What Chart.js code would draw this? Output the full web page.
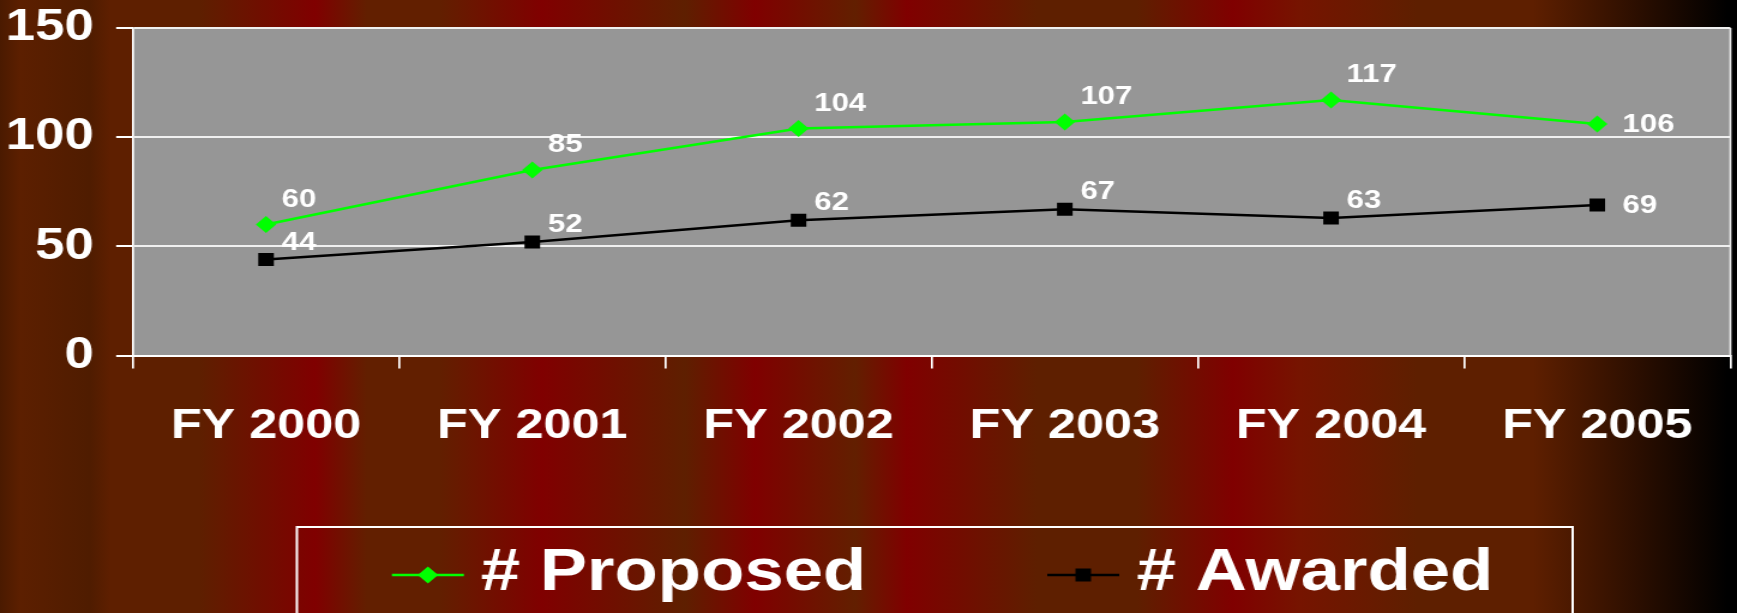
<!DOCTYPE html>
<html>
<head>
<meta charset="utf-8">
<script src="https://cdn.jsdelivr.net/npm/chart.js@4.4.0/dist/chart.umd.min.js"></script>
<style>
  html, body { margin: 0; padding: 0; overflow: hidden; }
  body {
    width: 1737px;
    height: 613px;
    background: linear-gradient(to right,
      #4a1a00 0px, #5c1f00 20px, #4f1c00 90px, #5e1f00 110px, #5e1f00 200px,
      #800000 315px, #621f00 367px, #621f00 440px, #800000 542px, #5e1f00 685px,
      #800000 755px, #621f00 855px, #800000 907px, #5e1f00 1037px, #5e1f00 1137px,
      #800000 1233px, #761400 1300px, #5e1f00 1417px, #5e1f00 1533px, #000000 1727px);
  }
</style>
</head>
<body>
<!-- drawn narrower and stretched, the original picture is widened -->
<canvas id="lineChart" width="1448" height="613" style="width:1737px;height:613px;display:block"></canvas>
<script>
const categories = ['FY 2000', 'FY 2001', 'FY 2002', 'FY 2003', 'FY 2004', 'FY 2005'];
const proposed = [60, 85, 104, 107, 117, 106];
const awarded = [44, 52, 62, 67, 63, 69];
const yTicks = [0, 50, 100, 150];

const FONT = "'Liberation Sans', Arial, sans-serif";

function drawMarker(ctx, style, x, y, r, color) {
    ctx.fillStyle = color;
    ctx.beginPath();
    if (style === 'rectRot') {
        ctx.moveTo(x, y - r);
        ctx.lineTo(x + r, y);
        ctx.lineTo(x, y + r);
        ctx.lineTo(x - r, y);
        ctx.closePath();
    } else {
        const s = r * Math.SQRT1_2;
        ctx.rect(x - s, y - s, 2 * s, 2 * s);
    }
    ctx.fill();
}

// gray plot area + right edge
const plotArea = {
    id: 'plotArea',
    beforeDraw(chart) {
        const { ctx, chartArea: a } = chart;
        ctx.save();
        ctx.fillStyle = '#969696';
        ctx.fillRect(a.left, a.top, a.right - a.left, a.bottom - a.top);
        ctx.restore();
    },
    beforeDatasetsDraw(chart) {
        const { ctx, chartArea: a } = chart;
        ctx.save();
        ctx.strokeStyle = '#f0f0f0';
        ctx.lineWidth = 1.7;
        ctx.beginPath();
        ctx.moveTo(a.right, a.top);
        ctx.lineTo(a.right, a.bottom);
        ctx.stroke();
        ctx.restore();
    },
};

// value labels next to the points
const valueLabels = {
    id: 'valueLabels',
    afterDatasetsDraw(chart) {
        const ctx = chart.ctx;
        ctx.save();
        ctx.font = 'bold 26px ' + FONT;
        ctx.fillStyle = '#ffffff';
        ctx.textAlign = 'left';
        ctx.textBaseline = 'middle';
        chart.data.datasets.forEach((ds, i) => {
            const meta = chart.getDatasetMeta(i);
            const dy = i === 0 ? -25 : -17;
            meta.data.forEach((pt, j) => {
                const last = j === meta.data.length - 1;
                const x = pt.x + (last ? 21 : 13);
                const y = pt.y + (last ? 1 : dy);
                ctx.fillText(String(ds.data[j]), x, y);
            });
        });
        ctx.restore();
    },
};

// boxed legend under the chart
const boxLegend = {
    id: 'boxLegend',
    afterDraw(chart) {
        const ctx = chart.ctx;
        ctx.save();
        ctx.strokeStyle = '#ffffff';
        ctx.lineWidth = 2;
        ctx.strokeRect(247.5, 527, 1063.5, 120);
        const spots = [
            { line: 326.7, text: 400.8 },
            { line: 873, text: 947.5 },
        ];
        ctx.font = 'bold 59px ' + FONT;
        ctx.textAlign = 'left';
        ctx.textBaseline = 'middle';
        chart.data.datasets.forEach((ds, i) => {
            const s = spots[i];
            const y = 575;
            ctx.strokeStyle = ds.borderColor;
            ctx.lineWidth = ds.borderWidth;
            ctx.beginPath();
            ctx.moveTo(s.line, y);
            ctx.lineTo(s.line + 60, y);
            ctx.stroke();
            drawMarker(ctx, ds.pointStyle, s.line + 30, y, ds.pointRadius, ds.pointBackgroundColor);
            ctx.fillStyle = '#ffffff';
            ctx.fillText(ds.label, s.text, y - 1);
        });
        ctx.restore();
    },
};

new Chart(document.getElementById('lineChart'), {
    type: 'line',
    data: {
        labels: categories,
        datasets: [
            {
                label: '# Proposed',
                data: proposed,
                borderColor: '#00ff00',
                borderWidth: 2.5,
                pointStyle: 'rectRot',
                pointRadius: 8.5,
                pointBackgroundColor: '#00ff00',
                pointBorderColor: '#00ff00',
                pointBorderWidth: 0,
                tension: 0,
            },
            {
                label: '# Awarded',
                data: awarded,
                borderColor: '#000000',
                borderWidth: 2.5,
                pointStyle: 'rect',
                pointRadius: 9.2,
                pointBackgroundColor: '#000000',
                pointBorderColor: '#000000',
                pointBorderWidth: 0,
                tension: 0,
            },
        ],
    },
    options: {
        responsive: false,
        animation: false,
        devicePixelRatio: 1,
        layout: {
            autoPadding: false,
            padding: { left: 4.8, right: 5.5, top: 28, bottom: 165 },
        },
        scales: {
            x: {
                offset: true,
                grid: {
                    offset: true,
                    drawOnChartArea: false,
                    drawTicks: true,
                    tickLength: 13,
                    color: '#ffffff',
                    lineWidth: 1.7,
                },
                border: { color: '#ffffff', width: 2 },
                ticks: {
                    color: '#ffffff',
                    font: { family: FONT, size: 42, weight: 'bold' },
                    padding: 33,
                    maxRotation: 0,
                    autoSkip: false,
                },
                afterFit: (scale) => {
                    scale.height = 92.4;
                    scale.paddingLeft = 0;
                    scale.paddingRight = 0;
                },
            },
            y: {
                min: 0,
                max: 150,
                afterBuildTicks: (axis) => {
                    axis.ticks = yTicks.map((v) => ({ value: v }));
                },
                grid: {
                    color: '#f0f0f0',
                    lineWidth: 2,
                    drawTicks: true,
                    tickLength: 14,
                    tickColor: '#ffffff',
                },
                border: { color: '#ffffff', width: 1.7 },
                ticks: {
                    color: '#ffffff',
                    font: { family: FONT, size: 44, weight: 'bold' },
                    padding: 18.6,
                },
                afterFit: (scale) => {
                    scale.width = 106;
                    scale.paddingTop = 0;
                    scale.paddingBottom = 0;
                },
            },
        },
        plugins: {
            legend: { display: false },
            tooltip: { enabled: false },
        },
    },
    plugins: [plotArea, valueLabels, boxLegend],
});
</script>
</body>
</html>
